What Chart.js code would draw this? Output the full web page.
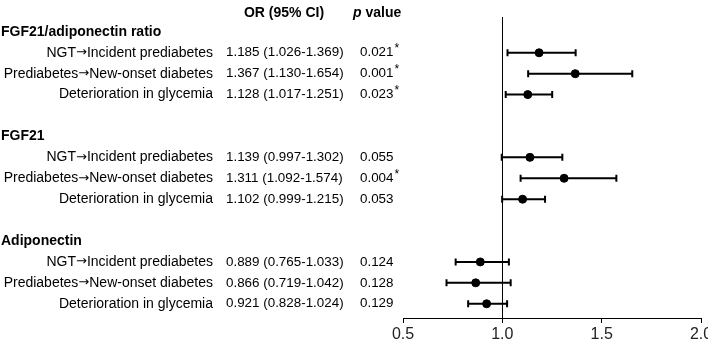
<!DOCTYPE html>
<html>
<head>
<meta charset="utf-8">
<script src="https://cdn.jsdelivr.net/npm/chart.js@4.4.1/dist/chart.umd.min.js"></script>
<style>
  html, body { margin: 0; padding: 0; background: #fff; }
  #wrap { width: 708px; height: 339px; position: relative; }
</style>
</head>
<body>
<div id="wrap"><canvas id="forest"></canvas></div>
<script>
// Gruppen und Zeilen
var groups = ['FGF21/adiponectin ratio', 'FGF21', 'Adiponectin'];
var outcomes = ['NGT\u2192Incident prediabetes', 'Prediabetes\u2192New-onset diabetes', 'Deterioration in glycemia'];

// OR und 95% CI, je Gruppe drei Zeilen
var orValues = [1.185, 1.367, 1.128, 1.139, 1.311, 1.102, 0.889, 0.866, 0.921];
var ciLow    = [1.026, 1.130, 1.017, 0.997, 1.092, 0.999, 0.765, 0.719, 0.828];
var ciHigh   = [1.369, 1.654, 1.251, 1.302, 1.574, 1.215, 1.033, 1.042, 1.024];
var pValues  = ['0.021', '0.001', '0.023', '0.055', '0.004', '0.053', '0.124', '0.128', '0.129'];
var signif   = [true, true, true, false, true, false, false, false, false];

var xTicks = [0.5, 1.0, 1.5, 2.0];

var FONT = '"Liberation Sans", Arial, sans-serif';

// Zeilenposition auf der y-Achse (Gruppe -> Slot)
function rowSlot(i) {
    var g = Math.floor(i / 3);
    return g * 5 + (i % 3) + 1;
}

var points = orValues.map(function(v, i) {
    return { x: v, y: rowSlot(i) };
});

// Text rechtsbündig zeichnen, Pfeil in eigener Schrift
function drawLabel(ctx, text, xRight, y) {
    var parts = text.split('\u2192');
    var textFont = '14px ' + FONT;
    var arrowFont = '13px "DejaVu Sans", sans-serif';
    ctx.font = textFont;
    var w0 = ctx.measureText(parts[0]).width;
    var w2 = parts.length > 1 ? ctx.measureText(parts[1]).width : 0;
    var wa = 0;
    if (parts.length > 1) {
        ctx.font = arrowFont;
        wa = ctx.measureText('\u2192').width;
    }
    var x = xRight - (w0 + wa + w2);
    ctx.textAlign = 'left';
    ctx.font = textFont;
    ctx.fillText(parts[0], x, y);
    if (parts.length > 1) {
        ctx.font = arrowFont;
        ctx.fillText('\u2192', x + w0, y);
        ctx.font = textFont;
        ctx.fillText(parts[1], x + w0 + wa, y);
    }
}

// Plugin: Fehlerbalken, Referenzlinie und die Texte links
var forestPlugin = {
    id: 'forest',
    beforeDatasetsDraw: function(chart) {
        var ctx = chart.ctx;
        var xs = chart.scales.x, ys = chart.scales.y;
        var area = chart.chartArea;

        ctx.save();
        // Referenzlinie bei OR = 1
        ctx.strokeStyle = '#000';
        ctx.lineWidth = 1;
        var x1 = Math.round(xs.getPixelForValue(1.0)) + 0.5;
        ctx.beginPath();
        ctx.moveTo(x1, area.top);
        ctx.lineTo(x1, area.bottom);
        ctx.stroke();

        // Konfidenzintervalle
        ctx.lineWidth = 2;
        for (var i = 0; i < orValues.length; i++) {
            var y = ys.getPixelForValue(rowSlot(i));
            var xl = xs.getPixelForValue(ciLow[i]);
            var xh = xs.getPixelForValue(ciHigh[i]);
            ctx.beginPath();
            ctx.moveTo(xl, y);
            ctx.lineTo(xh, y);
            ctx.moveTo(xl, y - 3.5);
            ctx.lineTo(xl, y + 3.5);
            ctx.moveTo(xh, y - 3.5);
            ctx.lineTo(xh, y + 3.5);
            ctx.stroke();
        }
        ctx.restore();
    },
    afterDraw: function(chart) {
        var ctx = chart.ctx;
        var ys = chart.scales.y;
        ctx.save();
        ctx.fillStyle = '#000';
        ctx.textBaseline = 'middle';

        // Kopfzeile
        var yh = 13.5;
        ctx.font = 'bold 14px ' + FONT;
        ctx.textAlign = 'center';
        ctx.fillText('OR (95% CI)', 284, yh);
        ctx.textAlign = 'left';
        ctx.font = 'italic bold 14px ' + FONT;
        ctx.fillText('p', 353, yh);
        var pw = ctx.measureText('p ').width;
        ctx.font = 'bold 14px ' + FONT;
        ctx.fillText('value', 353 + pw, yh);

        // Gruppentitel
        groups.forEach(function(g, gi) {
            ctx.font = 'bold 14px ' + FONT;
            ctx.textAlign = 'left';
            ctx.fillText(g, 1, ys.getPixelForValue(gi * 5));
        });

        // Zeilen
        for (var i = 0; i < orValues.length; i++) {
            var y = ys.getPixelForValue(rowSlot(i));
            drawLabel(ctx, outcomes[i % 3], 213, y);
            ctx.textAlign = 'left';
            ctx.font = '13.4px ' + FONT;
            var orText = orValues[i].toFixed(3) + ' (' + ciLow[i].toFixed(3) + '-' + ciHigh[i].toFixed(3) + ')';
            ctx.fillText(orText, 226, y);
            ctx.fillText(pValues[i], 360, y);
            if (signif[i]) {
                var w = ctx.measureText(pValues[i]).width;
                ctx.font = '12px ' + FONT;
                ctx.fillText('*', 360 + w + 1, y - 4);
            }
        }
        ctx.restore();
    }
};

const config = {
    type: 'scatter',
    data: {
        datasets: [{
            data: points,
            backgroundColor: '#000',
            borderColor: '#000',
            pointRadius: 4,
            pointHoverRadius: 4
        }]
    },
    options: {
        responsive: true,
        maintainAspectRatio: false,
        animation: false,
        layout: {
            padding: { left: 403, right: 7, top: 17, bottom: 0 }
        },
        plugins: {
            legend: { display: false },
            tooltip: { enabled: false }
        },
        scales: {
            x: {
                type: 'linear',
                min: xTicks[0],
                max: xTicks[xTicks.length - 1],
                afterBuildTicks: function(scale) {
                    scale.ticks = xTicks.map(function(v) { return { value: v }; });
                },
                afterFit: function(scale) {
                    scale.height = 21;
                    scale.paddingLeft = 0;
                    scale.paddingRight = 0;
                },
                ticks: {
                    color: '#222',
                    padding: 2,
                    font: { size: 16, family: FONT },
                    callback: function(v) { return Number(v).toFixed(1); }
                },
                grid: {
                    display: true,
                    drawOnChartArea: false,
                    drawTicks: true,
                    tickLength: 5,
                    color: '#000'
                },
                border: { display: true, color: '#000', width: 1 }
            },
            y: {
                type: 'linear',
                display: false,
                reverse: true,
                min: -0.71,
                max: 13.68
            }
        }
    },
    plugins: [forestPlugin]
};

var ctx1 = document.getElementById('forest');
var chart1 = new Chart(ctx1, config);
</script>
</body>
</html>
